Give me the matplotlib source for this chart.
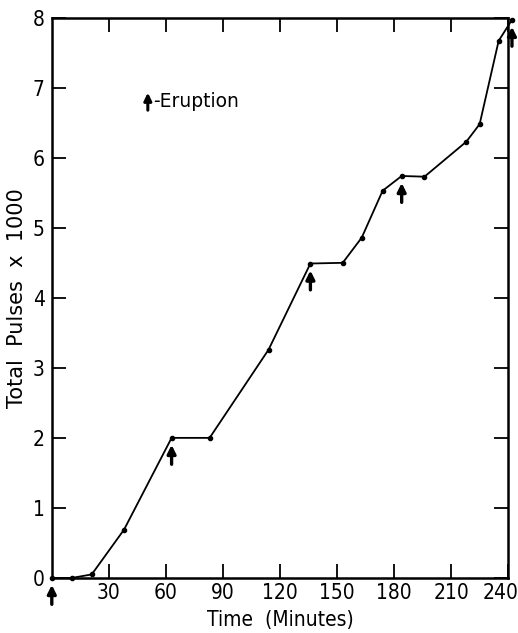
import matplotlib
matplotlib.use("Agg")
import matplotlib.pyplot as plt
import matplotlib.transforms as mtransforms
import numpy as np

plt.rcParams['font.family'] = ['DejaVu Sans']
plt.rcParams['font.stretch'] = 'condensed'

# ───────── Data ─────────
time_min = [0, 10.5, 21, 38, 63, 83, 114, 136, 153, 163, 174, 184, 196, 218, 225, 235, 242]
pulses_k = [0, 0.0, 0.05, 0.69, 2.0, 2.0, 3.26, 4.49, 4.5, 4.86, 5.53, 5.74, 5.73, 6.23, 6.48, 7.67, 7.97]
eruption_times = [0, 63, 136, 184, 242]

x_ticks = [30, 60, 90, 120, 150, 180, 210, 240]
y_ticks = [0, 1, 2, 3, 4, 5, 6, 7, 8]

# ───────── Plot ─────────
fig = plt.figure(figsize=(5.18, 6.33), dpi=100)
ax = fig.add_axes([0.100, 0.087, 0.881, 0.885])

ax.plot(time_min, pulses_k, color='black', lw=1.3, marker='o', ms=3, clip_on=False, zorder=3)

for t in eruption_times:
    y = np.interp(t, time_min, pulses_k)
    ax.annotate('', xy=(t, y), xycoords='data', xytext=(0, -19), textcoords='offset points',
                arrowprops=dict(arrowstyle='-|>,head_length=0.5,head_width=0.25', color='black',
                                lw=2.4, shrinkA=0, shrinkB=5),
                annotation_clip=False)

# key for the eruption arrows
ax.annotate('', xy=(50.5, 6.93), xytext=(50.5, 6.68),
            arrowprops=dict(arrowstyle='-|>,head_length=0.45,head_width=0.22', color='black',
                            lw=2.2, shrinkA=0, shrinkB=0))
ax.text(53.5, 6.8, '-Eruption', fontsize=13.5, va='center', ha='left', fontstretch='normal')

ax.set_xlim(0, 240)
ax.set_ylim(0, 8)
ax.set_xticks(x_ticks)
ax.set_xticklabels([str(v) for v in x_ticks])
ax.set_yticks(y_ticks)
ax.set_yticklabels([str(v) for v in y_ticks])

ax.tick_params(axis='both', direction='in', length=10, width=1.3, labelsize=15,
               top=True, right=True)
ax.tick_params(axis='x', pad=4)
ax.tick_params(axis='y', pad=5)
# the last x label sits a little left of the corner in the original
last = ax.get_xticklabels()[-1]
last.set_transform(last.get_transform() + mtransforms.ScaledTranslation(-8 / 100, 0, fig.dpi_scale_trans))
for s in ax.spines.values():
    s.set_linewidth(1.8)

ax.set_xlabel('Time  (Minutes)', fontsize=15, labelpad=5)
ax.set_ylabel('Total  Pulses  x  1000', fontsize=15, labelpad=4, fontstretch='normal')

fig.savefig('out.png', dpi=100)
